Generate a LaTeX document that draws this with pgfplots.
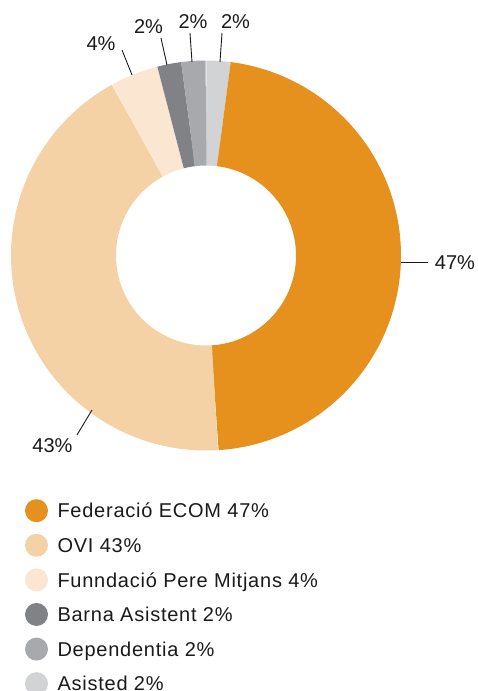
\documentclass[border=0pt]{standalone}
\usepackage{pgfplots}
\pgfplotsset{compat=1.18}
\usepackage{pgfplotstable}
\usepackage{fontspec}
\setmainfont{Liberation Sans}
\newfontfamily\legfont{Liberation Sans}[LetterSpace=3.8]
\definecolor{cF}{HTML}{E6911E}
\definecolor{cO}{HTML}{F4D2A6}
\definecolor{cFu}{HTML}{FAE6D1}
\definecolor{cB}{HTML}{808285}
\definecolor{cD}{HTML}{A7A9AC}
\definecolor{cA}{HTML}{D1D3D4}
\definecolor{txt}{HTML}{1A1A1A}
% shares in percent, clockwise from 12 o'clock:
% Asisted, Federacio ECOM, OVI, Funndacio Pere Mitjans, Barna Asistent, Dependentia
\pgfplotstableread{
pct
2
47
43
4
2
2
}\slices
\def\aA{0}
\pgfplotstablegetelem{0}{pct}\of\slices \pgfmathsetmacro\aB{\aA+3.6*\pgfplotsretval}
\pgfplotstablegetelem{1}{pct}\of\slices \pgfmathsetmacro\aC{\aB+3.6*\pgfplotsretval}
\pgfplotstablegetelem{2}{pct}\of\slices \pgfmathsetmacro\aD{\aC+3.6*\pgfplotsretval}
\pgfplotstablegetelem{3}{pct}\of\slices \pgfmathsetmacro\aE{\aD+3.6*\pgfplotsretval}
\pgfplotstablegetelem{4}{pct}\of\slices \pgfmathsetmacro\aF{\aE+3.6*\pgfplotsretval}
\pgfplotstablegetelem{5}{pct}\of\slices \pgfmathsetmacro\aG{\aF+3.6*\pgfplotsretval}
\def\cx{206}\def\cy{255.5}\def\rm{142.5}
\begin{document}
\begin{tikzpicture}
\path[use as bounding box] (0,0) rectangle (478pt,691pt);
\clip (0,0) rectangle (478pt,691pt);
\begin{axis}[
  x=1pt, y=1pt, xmin=0, xmax=478, ymin=0, ymax=691, y dir=reverse,
  hide axis, clip=false, at={(0,0)}, anchor=south west,
  legend image code/.code={\fill[#1] (0pt,0pt) circle[radius=11.5pt];},
  legend cell align=left,
  legend style={at={(axis description cs:0.0523,0.2776)}, anchor=north west,
    draw=none, fill=none, inner sep=0pt, outer sep=0pt, row sep=11.6pt,
    font=\legfont\fontsize{20}{24}\selectfont, text=txt,
    nodes={inner sep=0pt, text height=14.3pt, text depth=0pt},
    /tikz/every odd column/.append style={column sep=9.5pt}},
]
% donut ring
\addplot[forget plot, draw=cA, line width=105pt, domain=\aA:\aB, samples=40, variable=\t] ({\cx+\rm*sin(\t)},{\cy-\rm*cos(\t)});
\addplot[forget plot, draw=cF, line width=105pt, domain=\aB:\aC, samples=200, variable=\t] ({\cx+\rm*sin(\t)},{\cy-\rm*cos(\t)});
\addplot[forget plot, draw=cO, line width=105pt, domain=\aC:\aD, samples=200, variable=\t] ({\cx+\rm*sin(\t)},{\cy-\rm*cos(\t)});
\addplot[forget plot, draw=cFu, line width=105pt, domain=\aD:\aE, samples=40, variable=\t] ({\cx+\rm*sin(\t)},{\cy-\rm*cos(\t)});
\addplot[forget plot, draw=cB, line width=105pt, domain=\aE:\aF, samples=40, variable=\t] ({\cx+\rm*sin(\t)},{\cy-\rm*cos(\t)});
\addplot[forget plot, draw=cD, line width=105pt, domain=\aF:\aG, samples=40, variable=\t] ({\cx+\rm*sin(\t)},{\cy-\rm*cos(\t)});
% leader lines
\addplot[forget plot, txt, line width=0.9pt] coordinates {(401,262) (428,262)};
\addplot[forget plot, txt, line width=0.9pt] coordinates {(92,410) (77,435)};
\addplot[forget plot, txt, line width=0.9pt] coordinates {(122,50) (132,75)};
\addplot[forget plot, txt, line width=0.9pt] coordinates {(161,38) (167,65)};
\addplot[forget plot, txt, line width=0.9pt] coordinates {(190,33) (192,62)};
\addplot[forget plot, txt, line width=0.9pt] coordinates {(222,33) (220,62)};
% value labels
\begin{scope}[every node/.style={font=\fontsize{20}{24}\selectfont, text=txt, inner sep=0pt, anchor=base}]
\node at (axis cs:455,269) {47\%};
\node at (axis cs:52.5,452) {43\%};
\node at (axis cs:101,50) {4\%};
\node at (axis cs:148.5,33) {2\%};
\node at (axis cs:193,28) {2\%};
\node at (axis cs:235.5,28) {2\%};
\end{scope}
% legend
\addlegendimage{fill=cF, draw=none}\addlegendentry{Federació ECOM 47\%}
\addlegendimage{fill=cO, draw=none}\addlegendentry{OVI 43\%}
\addlegendimage{fill=cFu, draw=none}\addlegendentry{Funndació Pere Mitjans 4\%}
\addlegendimage{fill=cB, draw=none}\addlegendentry{Barna Asistent 2\%}
\addlegendimage{fill=cD, draw=none}\addlegendentry{Dependentia 2\%}
\addlegendimage{fill=cA, draw=none}\addlegendentry{Asisted 2\%}
\end{axis}
\end{tikzpicture}
\end{document}
